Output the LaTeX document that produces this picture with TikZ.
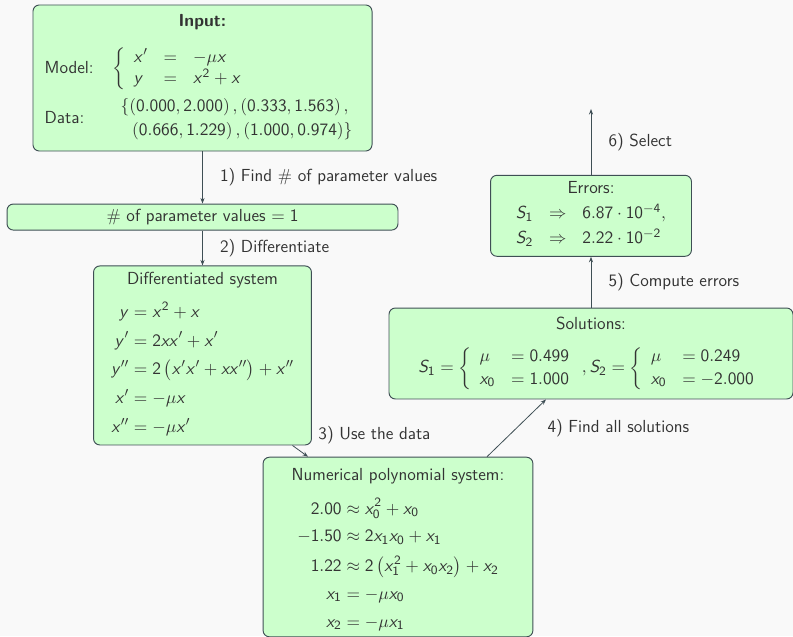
\documentclass[tikz,border=0pt]{standalone}
\usepackage{amsmath}
\usepackage{amssymb}
\usepackage{xcolor}
\usepackage{tikz}
\usetikzlibrary{
arrows.meta,
positioning,
calc
}

\DeclareSymbolFont{sfletters}{OT1}{cmss}{m}{it}
\DeclareSymbolFont{sfdigits}{OT1}{cmss}{m}{n}
\newcount\mcchar
\mcchar=`a
\loop
\mathcode\mcchar=\numexpr"7000+\symsfletters*"100+\mcchar\relax
\advance\mcchar by 1
\ifnum\mcchar<123 \repeat
\mcchar=`A
\loop
\mathcode\mcchar=\numexpr"7000+\symsfletters*"100+\mcchar\relax
\advance\mcchar by 1
\ifnum\mcchar<91 \repeat
\mcchar=`0
\loop
\mathcode\mcchar=\numexpr"7000+\symsfdigits*"100+\mcchar\relax
\advance\mcchar by 1
\ifnum\mcchar<58 \repeat

\definecolor{boxfill}{HTML}{CCFFCC}
\definecolor{boxline}{HTML}{3F4F55}
\definecolor{bgcol}{HTML}{F9F9F9}
\definecolor{txt}{HTML}{333333}

\begin{document}
\begin{tikzpicture}[
x=0.63pt,y=-0.63pt,
font=\sffamily\fontsize{11}{13.6}\selectfont,
text=txt,
box/.style={
draw=boxline,
fill=boxfill,
line width=0.6pt,
rounded corners=4pt,
inner sep=2pt,
align=center
},
arrow/.style={-{Stealth[length=3.5pt,width=2.6pt]},draw=boxline,line width=0.5pt}
]

\fill[bgcol] (0,0) rectangle (793,636);
\useasboundingbox (0,0) rectangle (793,636);

\node[box,minimum width=213.6pt,minimum height=92pt] (input) at (202.5,78) {\textbf{Input:}\\[10pt]
\begin{tabular}{@{}ll@{}}
Model: & $\left\{\begin{array}{lcl} x' & = & -\mu x\\ y & = & x^2+x\end{array}\right.$\\\noalign{\vskip 4pt}
Data: & $\begin{array}{l}\{\left(0.000,2.000\right),\left(0.333,1.563\right),\\[1.3pt] \phantom{\{}\left(0.666,1.229\right),\left(1.000,0.974\right)\}\end{array}$
\end{tabular}};
\node[box,minimum width=246.3pt,minimum height=16.4pt,below=32.8pt of input] (params) {\# of parameter values $=1$};
\node[box,minimum width=137.3pt,minimum height=112.8pt,below=22pt of params] (diff) {Differentiated system\\[7.8pt]
$\begin{aligned}
y &= x^2+x\\[1.5pt]
y' &= 2xx'+x'\\[1.5pt]
y'' &= 2\left(x'x'+xx''\right)+x''\\[1.5pt]
x' &= -\mu x\\[1.5pt]
x'' &= -\mu x'
\end{aligned}$};
\node[box,minimum width=170pt,minimum height=111pt] (numsys) at (398,547) {\rule{0pt}{12.4pt}Numerical polynomial system:\\[8.4pt]
$\begin{aligned}
2.00 &\approx x_0^2+x_0\\[0.9pt]
-1.50 &\approx 2x_1x_0+x_1\\[0.9pt]
1.22 &\approx 2\left(x_1^2+x_0x_2\right)+x_2\\[0.9pt]
x_1 &= -\mu x_0\\[0.9pt]
x_2 &= -\mu x_1
\end{aligned}$};
\node[box,minimum width=254.5pt,minimum height=57.3pt] (solutions) at (591,353.5) {Solutions:\\[9.7pt]
$S_1=\left\{\begin{array}{ll}\mu & =0.499\\[0.6pt] x_0 & =1.000\end{array}\right.,S_2=\left\{\begin{array}{ll}\mu & =0.249\\[0.6pt] x_0 & =-2.000\end{array}\right.$};
\node[box,minimum width=126.6pt,minimum height=51pt,above=32pt of solutions] (errors) {Errors:\\[5.2pt]
$\begin{array}{lcl} S_1 & \Rightarrow & 6.87\cdot10^{-4},\\[1.9pt] S_2 & \Rightarrow & 2.22\cdot10^{-2}\end{array}$};
\coordinate[above=41.5pt of errors] (select);

\draw[arrow] (input) -- node[right=7.5pt] {1) Find \# of parameter values} (params);
\draw[arrow] (params) -- node[right=7.5pt] {2) Differentiate} (diff);
\draw[arrow] ($(diff.south)+(90,0)$) -- node[midway,anchor=west,xshift=7.9pt,yshift=10pt] {3) Use the data} ($(numsys.north)+(-90,0)$);
\draw[arrow] ($(numsys.north)+(89,0)$) -- node[midway,anchor=west,xshift=16pt] {4) Find all solutions} ($(solutions.south)+(-45,0)$);
\draw[arrow] (solutions) -- node[right=7.5pt] {5) Compute errors} (errors);
\draw[arrow] (errors) -- node[right=7.5pt] {6) Select} (select);

\end{tikzpicture}
\end{document}
